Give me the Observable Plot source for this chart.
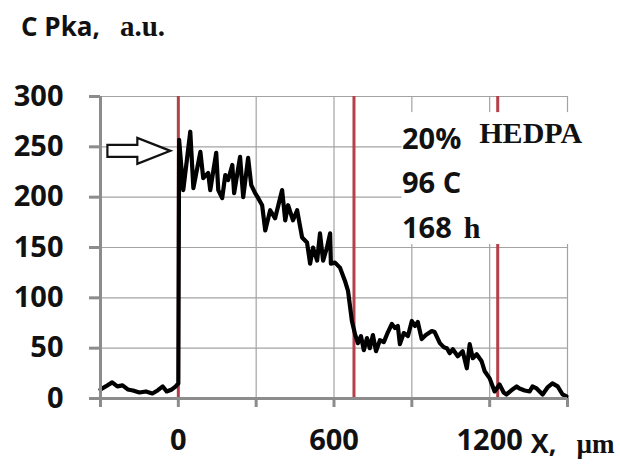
<!DOCTYPE html>
<html>
<head>
<meta charset="utf-8">
<script src="https://cdn.jsdelivr.net/npm/d3@7"></script>
<script src="https://cdn.jsdelivr.net/npm/@observablehq/plot@0.6"></script>
<style>
  html, body { margin: 0; padding: 0; background: #fff; }
  #wrap { position: relative; width: 620px; height: 468px; }
  .lbl { position: absolute; white-space: nowrap; line-height: 1; color: #111; }
  .sans { font-family: "Open Sans", sans-serif; font-weight: 700; }
  .serif { font-family: "Liberation Serif", serif; font-weight: 700; }
</style>
</head>
<body>
<div id="wrap">
  <div class="lbl" style="left:21px; top:12px;">
    <span class="sans" style="font-size:26px;">C Pka,</span>
    <span class="serif" style="font-size:29px; margin-left:16px;">a.u.</span>
  </div>
</div>
<script>
// Concentration profile across the sample (position in µm, signal in a.u.)
const positionUm = [
  -300, -280, -255, -235, -215, -195, -175, -150, -125, -100, -80, -60, -45, -25, -10, 0,
  3, 19, 46, 58, 85, 96, 115, 123, 146, 154, 169, 181, 192, 208, 215, 238, 250, 269, 281,
  296, 308, 323, 335, 354, 373, 400, 412, 423, 442, 458, 477, 496, 508, 519, 535, 546, 558,
  573, 585, 588, 604, 623, 642, 654, 669, 681, 692, 704, 715, 727, 738, 750, 762, 777, 792,
  808, 823, 835, 846, 854, 869, 885, 900, 912, 923, 938, 954, 977, 988, 1008, 1023, 1035,
  1046, 1058, 1077, 1096, 1112, 1123, 1135, 1150, 1169, 1181, 1200, 1219, 1238, 1254, 1265,
  1288, 1304, 1315, 1335, 1354, 1365, 1381, 1404, 1423, 1442, 1462, 1481, 1496
];
const signal = [
  9, 12, 16, 12, 13, 9, 8, 6, 7, 5, 8, 12, 7, 9, 12, 15,
  257, 207, 265, 209, 245, 219, 224, 207, 244, 207, 199, 222, 217, 232, 204, 240, 200, 239, 212,
  204, 199, 192, 167, 187, 179, 207, 177, 192, 177, 187, 160, 155, 134, 150, 137, 164, 137,
  150, 164, 134, 135, 130, 117, 107, 77, 64, 55, 62, 48, 60, 50, 63, 47, 58, 56,
  66, 74, 70, 72, 54, 65, 62, 77, 72, 76, 59, 63, 67, 66, 55, 51, 50,
  45, 49, 42, 47, 30, 54, 40, 44, 37, 27, 20, 7, 14, 6, 4,
  9, 12, 10, 8, 7, 12, 10, 4, 11, 15, 12, 4, 2
];

// Zone boundaries (µm)
const boundaries = [0, 677, 1231];

// Axis ticks
const xTicks = [-300, 0, 300, 600, 900, 1200, 1500];
const xTickLabels = [0, 600, 1200];
const yTicks = [0, 50, 100, 150, 200, 250, 300];

// Conditions block
const noteBox = [{x1: 862, x2: 1610, y1: 153, y2: 284}];
const sansNotes = [
  {x: 862, y: 248, text: "20%"},
  {x: 862, y: 204, text: "96 C"},
  {x: 862, y: 159, text: "168"}
];
const serifNotes = [
  {x: 1160, y: 254, text: "HEDPA"},
  {x: 1100, y: 159, text: "h"}
];

// Pointer to the surface value
const pointer = [{x: -152, y: 246}];

const blockArrow = {
  draw(context, size) {
    const r = Math.sqrt(size / Math.PI);
    const s = 0.19 * r, H = 0.41 * r, h = -0.05 * r;
    context.moveTo(-r, -s);
    context.lineTo(h, -s);
    context.lineTo(h, -H);
    context.lineTo(r, 0);
    context.lineTo(h, H);
    context.lineTo(h, s);
    context.lineTo(-r, s);
    context.closePath();
  }
};

const profile = positionUm.map((x, i) => ({x, y: signal[i]}));
const gridColor = "#a3a3a3";
const axisColor = "#8c8c8c";

const chart = Plot.plot({
  width: 620,
  height: 468,
  marginLeft: 100,
  marginRight: 53,
  marginTop: 96,
  marginBottom: 70,
  x: {domain: [-300, 1500]},
  y: {domain: [0, 300]},
  style: {background: "transparent", overflow: "visible"},
  marks: [
    Plot.gridX(xTicks, {stroke: gridColor, strokeOpacity: 1, strokeWidth: 1.2}),
    Plot.gridY(yTicks, {stroke: gridColor, strokeOpacity: 1, strokeWidth: 1.2}),
    Plot.ruleX(boundaries, {y1: 0, y2: 300, stroke: "#b4404a", strokeWidth: 3}),
    Plot.rect(noteBox, {x1: "x1", x2: "x2", y1: "y1", y2: "y2", fill: "white"}),
    Plot.line(profile, {x: "x", y: "y", stroke: "#000", strokeWidth: 4.2, strokeLinejoin: "round"}),
    Plot.ruleX([-300], {y1: 0, y2: 300, stroke: axisColor, strokeWidth: 3}),
    Plot.ruleY([0], {stroke: axisColor, strokeWidth: 3}),
    Plot.axisX({
      ticks: xTicks, tickSize: 9, tickPadding: 22, stroke: axisColor, strokeWidth: 3,
      fill: "#111", fontSize: 29, fontWeight: 700, fontFamily: "Open Sans",
      tickFormat: d => xTickLabels.includes(d) ? String(d) : "", label: null
    }),
    Plot.axisY({
      ticks: yTicks, tickSize: 11, tickPadding: 26, stroke: axisColor, strokeWidth: 3,
      fill: "#111", fontSize: 29, fontWeight: 700, fontFamily: "Open Sans", label: null
    }),
    Plot.text(sansNotes, {x: "x", y: "y", text: "text", textAnchor: "start", lineAnchor: "bottom",
      fontSize: 29, fontWeight: 700, fontFamily: "Open Sans", fill: "#111"}),
    Plot.text(serifNotes, {x: "x", y: "y", text: "text", textAnchor: "start", lineAnchor: "bottom",
      fontSize: 30, fontWeight: 700, fontFamily: "Liberation Serif", fill: "#111"}),
    Plot.text(["X,"], {frameAnchor: "bottom-right", dx: -11, dy: 54, textAnchor: "end", lineAnchor: "bottom",
      fontSize: 27, fontWeight: 700, fontFamily: "Open Sans", fill: "#111"}),
    Plot.text(["µm"], {frameAnchor: "bottom-right", dx: 9, dy: 54, textAnchor: "start", lineAnchor: "bottom",
      fontSize: 27, fontWeight: 700, fontFamily: "Liberation Serif", fill: "#111"}),
    Plot.dot(pointer, {x: "x", y: "y", symbol: blockArrow, r: 31.5, fill: "white", stroke: "#111", strokeWidth: 2.2})
  ]
});

document.getElementById("wrap").prepend(chart);
chart.style.position = "absolute";
chart.style.left = "0";
chart.style.top = "0";
</script>
</body>
</html>
